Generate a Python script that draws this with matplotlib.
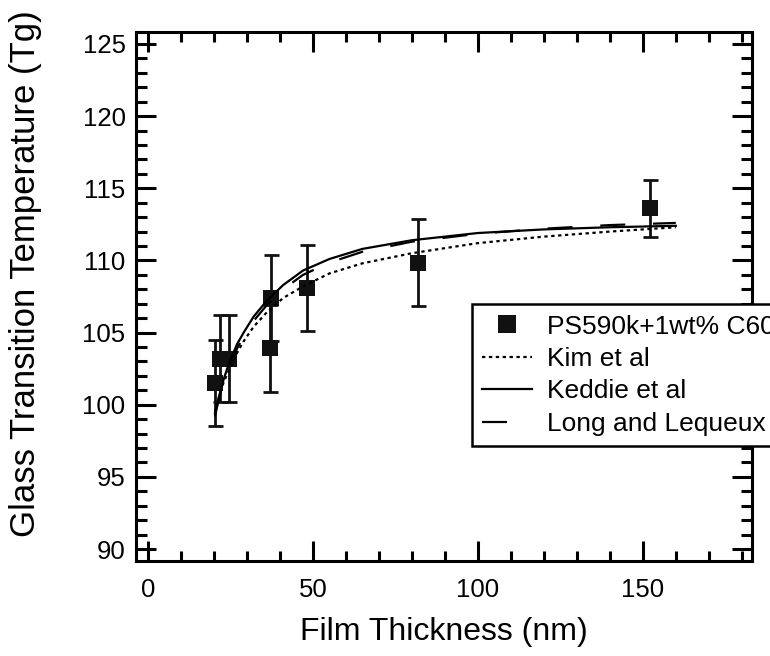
import matplotlib

matplotlib.use("Agg")
import matplotlib.pyplot as plt
from matplotlib.ticker import MultipleLocator

# measured points (PS590k + 1wt% C60)
thickness = [20.3, 21.7, 24.7, 37.2, 37.0, 48.1, 81.8, 152.2]
tg = [101.5, 103.2, 103.2, 107.4, 103.9, 108.1, 109.85, 113.6]
tg_err = [3.0, 3.0, 3.0, 3.0, 3.0, 3.0, 3.0, 2.0]

# model curves
model_h = [20.3, 21, 22, 23, 24, 25, 27, 29, 32, 36, 41, 47, 55, 65, 80, 100, 120, 140, 160]
kim_tg = [99.5, 100.1, 100.9, 101.6, 102.1, 102.6, 103.6, 104.4, 105.4, 106.4, 107.4,
          108.2, 109.1, 109.8, 110.5, 111.2, 111.65, 112.0, 112.3]
keddie_tg = [99.4, 100.1, 101.0, 101.8, 102.5, 103.1, 104.2, 105.0, 106.1, 107.2, 108.3,
             109.3, 110.1, 110.8, 111.4, 111.9, 112.15, 112.3, 112.4]
long_tg = [99.2, 99.9, 100.8, 101.6, 102.3, 102.9, 103.9, 104.7, 105.8, 106.9, 108.0,
           109.0, 109.85, 110.6, 111.3, 111.85, 112.2, 112.45, 112.6]

plt.rcParams.update({
    "font.family": ["Liberation Sans", "DejaVu Sans"],
    "text.color": "black",
    "axes.linewidth": 2.2,
    "xtick.direction": "in",
    "ytick.direction": "in",
    "xtick.top": True,
    "ytick.right": True,
    "xtick.major.size": 14.4,
    "ytick.major.size": 14.4,
    "xtick.minor.size": 7.5,
    "ytick.minor.size": 8,
    "xtick.major.width": 2.2,
    "ytick.major.width": 2.2,
    "xtick.minor.width": 2.2,
    "ytick.minor.width": 2.2,
    "xtick.major.pad": 12,
    "ytick.major.pad": 7.5,
    "xtick.labelsize": 18.5,
    "ytick.labelsize": 18.5,
})

fig = plt.figure(figsize=(7.7, 6.56), dpi=100)
ax = fig.add_axes([0.1766, 0.1448, 0.8, 0.8064])

ink = "#111111"
ax.errorbar(thickness, tg, yerr=tg_err, fmt="none", ecolor=ink, elinewidth=2,
            capsize=5.4, capthick=2, zorder=2)
ax.plot(thickness, tg, "s", color=ink, markersize=11.2, markeredgewidth=0,
        label="PS590k+1wt% C60", zorder=3)
ax.plot(model_h, kim_tg, color="black", linewidth=1.6, dashes=(1.5, 1.6),
        label="Kim et al", zorder=4)
ax.plot(model_h, keddie_tg, color="black", linewidth=1.6, label="Keddie et al", zorder=4)
ax.plot(model_h, long_tg, color="black", linewidth=1.6, dashes=(11.25, 12.5),
        label="Long and Lequeux", zorder=4)

ax.set_xlim(-3.64, 183.1)
ax.set_ylim(89.17, 125.83)
ax.xaxis.set_major_locator(MultipleLocator(50))
ax.xaxis.set_minor_locator(MultipleLocator(10))
ax.yaxis.set_major_locator(MultipleLocator(5))
ax.yaxis.set_minor_locator(MultipleLocator(1))

ax.set_xlabel("Film Thickness (nm)", fontsize=23, labelpad=11)
ax.set_ylabel("Glass Transition Temperature (Tg)", fontsize=25)
ax.yaxis.set_label_coords(-0.152, 0.5425)

leg = ax.legend(loc="upper left", bbox_to_anchor=(471.7 / 770, 1 - 304 / 656),
                bbox_transform=fig.transFigure, fontsize=19, frameon=True,
                fancybox=False, framealpha=1, edgecolor="black", handlelength=1.9,
                handletextpad=0.55, borderpad=0.4, labelspacing=0.32,
                borderaxespad=0, markerscale=1.15)
leg.get_frame().set_linewidth(1.8)
leg.set_zorder(10)

fig.savefig("out.png", dpi=100)
